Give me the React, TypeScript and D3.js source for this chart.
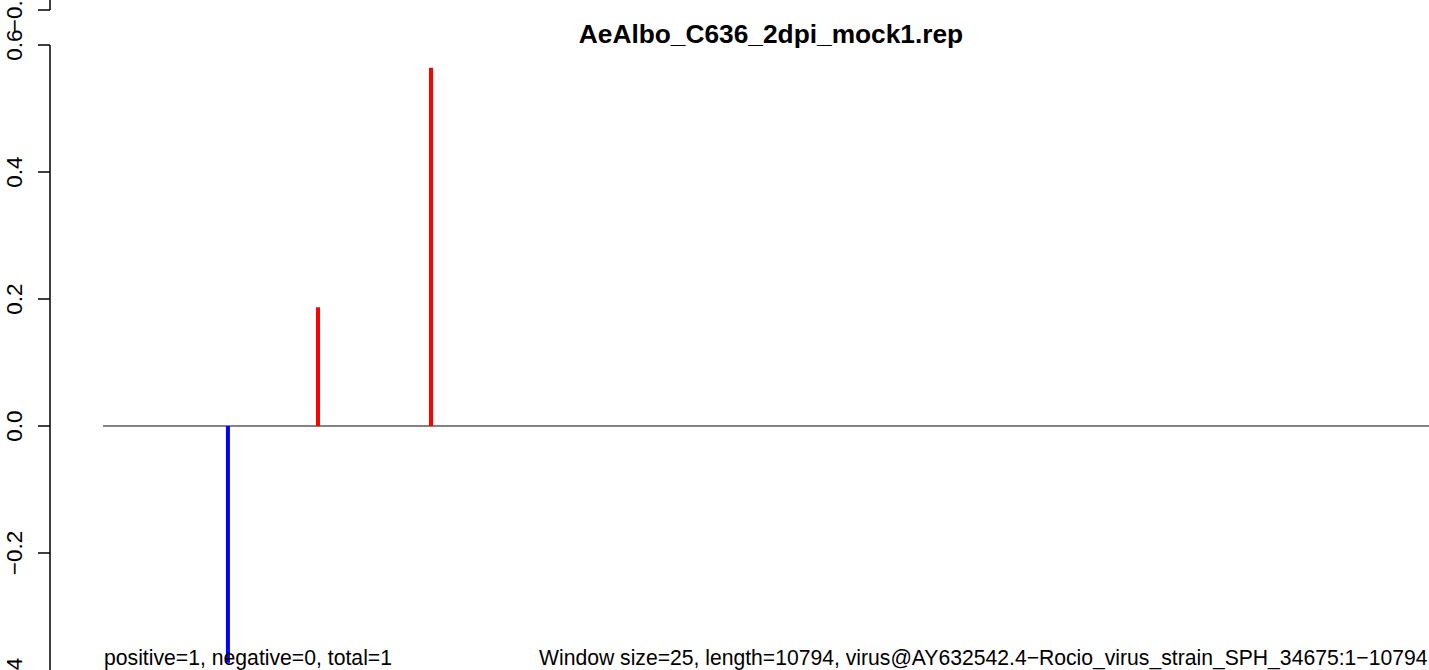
import React from "react";
import * as d3 from "d3";

const title = "AeAlbo_C636_2dpi_mock1.rep";
const genomeLength = 10794;
const barPositions = [1017, 1750, 2670];
const barValues = [-0.373, 0.187, 0.564];
const yTicks = [-0.4, -0.2, 0.0, 0.2, 0.4, 0.6];
const yTickLabels = ["\u22120.4", "\u22120.2", "0.0", "0.2", "0.4", "0.6"];
const prevPanelTick = -0.4;
const prevPanelTickLabel = "\u22120.4";
const leftNote = "positive=1, negative=0, total=1";
const rightNote =
  "Window size=25, length=10794, virus@AY632542.4\u2212Rocio_virus_strain_SPH_34675:1\u221210794";

const W = 1429;
const H = 670;
const FONT = "'Liberation Sans', Arial, Helvetica, sans-serif";

export default function App() {
  const x = d3.scaleLinear().domain([0, genomeLength]).range([103, 1429]);
  const y = d3.scaleLinear().domain([-0.4, 0.6]).range([680, 45]);
  const axisX = 50;
  // previous panel (above) – only its bottom tick is visible
  const yPrev = d3.scaleLinear().domain([-0.4, 0.6]).range([10, -625]);

  return (
    <svg
      width={W}
      height={H}
      style={{ position: "absolute", left: 0, top: 0, background: "#fff", display: "block" }}
      fontFamily={FONT}
    >
      <rect x={0} y={0} width={W} height={H} fill="#fff" />
      {/* previous panel axis fragment */}
      <line x1={axisX} x2={axisX} y1={yPrev(0.6)} y2={yPrev(prevPanelTick)} stroke="#000" strokeWidth={1.5} />
      <line x1={axisX - 12} x2={axisX} y1={yPrev(prevPanelTick)} y2={yPrev(prevPanelTick)} stroke="#000" strokeWidth={1.5} />
      <text
        transform={`translate(22,${yPrev(prevPanelTick)}) rotate(-90)`}
        textAnchor="middle"
        fontSize={22.5}
        fill="#000"
      >
        {prevPanelTickLabel}
      </text>

      {/* y axis */}
      <line x1={axisX} x2={axisX} y1={y(yTicks[0])} y2={y(yTicks[yTicks.length - 1])} stroke="#000" strokeWidth={1.5} />
      {yTicks.map((t, i) => (
        <g key={i}>
          <line x1={axisX - 12} x2={axisX} y1={y(t)} y2={y(t)} stroke="#000" strokeWidth={1.5} />
          <text
            transform={`translate(22,${y(t)}) rotate(-90)`}
            textAnchor="middle"
            fontSize={22.5}
            fill="#000"
          >
            {yTickLabels[i]}
          </text>
        </g>
      ))}

      {/* zero line */}
      <line x1={x(0)} x2={x(genomeLength)} y1={y(0)} y2={y(0)} stroke="#5a5a5a" strokeWidth={1.5} />

      {/* bars */}
      {barPositions.map((p, i) => (
        <line
          key={i}
          x1={x(p)}
          x2={x(p)}
          y1={y(0)}
          y2={y(barValues[i])}
          stroke={barValues[i] >= 0 ? "#ff0000" : "#0000ff"}
          strokeWidth={4}
        />
      ))}

      {/* title */}
      <text x={771} y={43} textAnchor="middle" fontWeight="bold" fontSize={26.3} fill="#000">
        {title}
      </text>

      {/* notes */}
      <text x={x(0) + 1} y={665} fontSize={21.2} fill="#000">
        {leftNote}
      </text>
      <text x={539} y={665} fontSize={21.15} fill="#000">
        {rightNote}
      </text>
    </svg>
  );
}
